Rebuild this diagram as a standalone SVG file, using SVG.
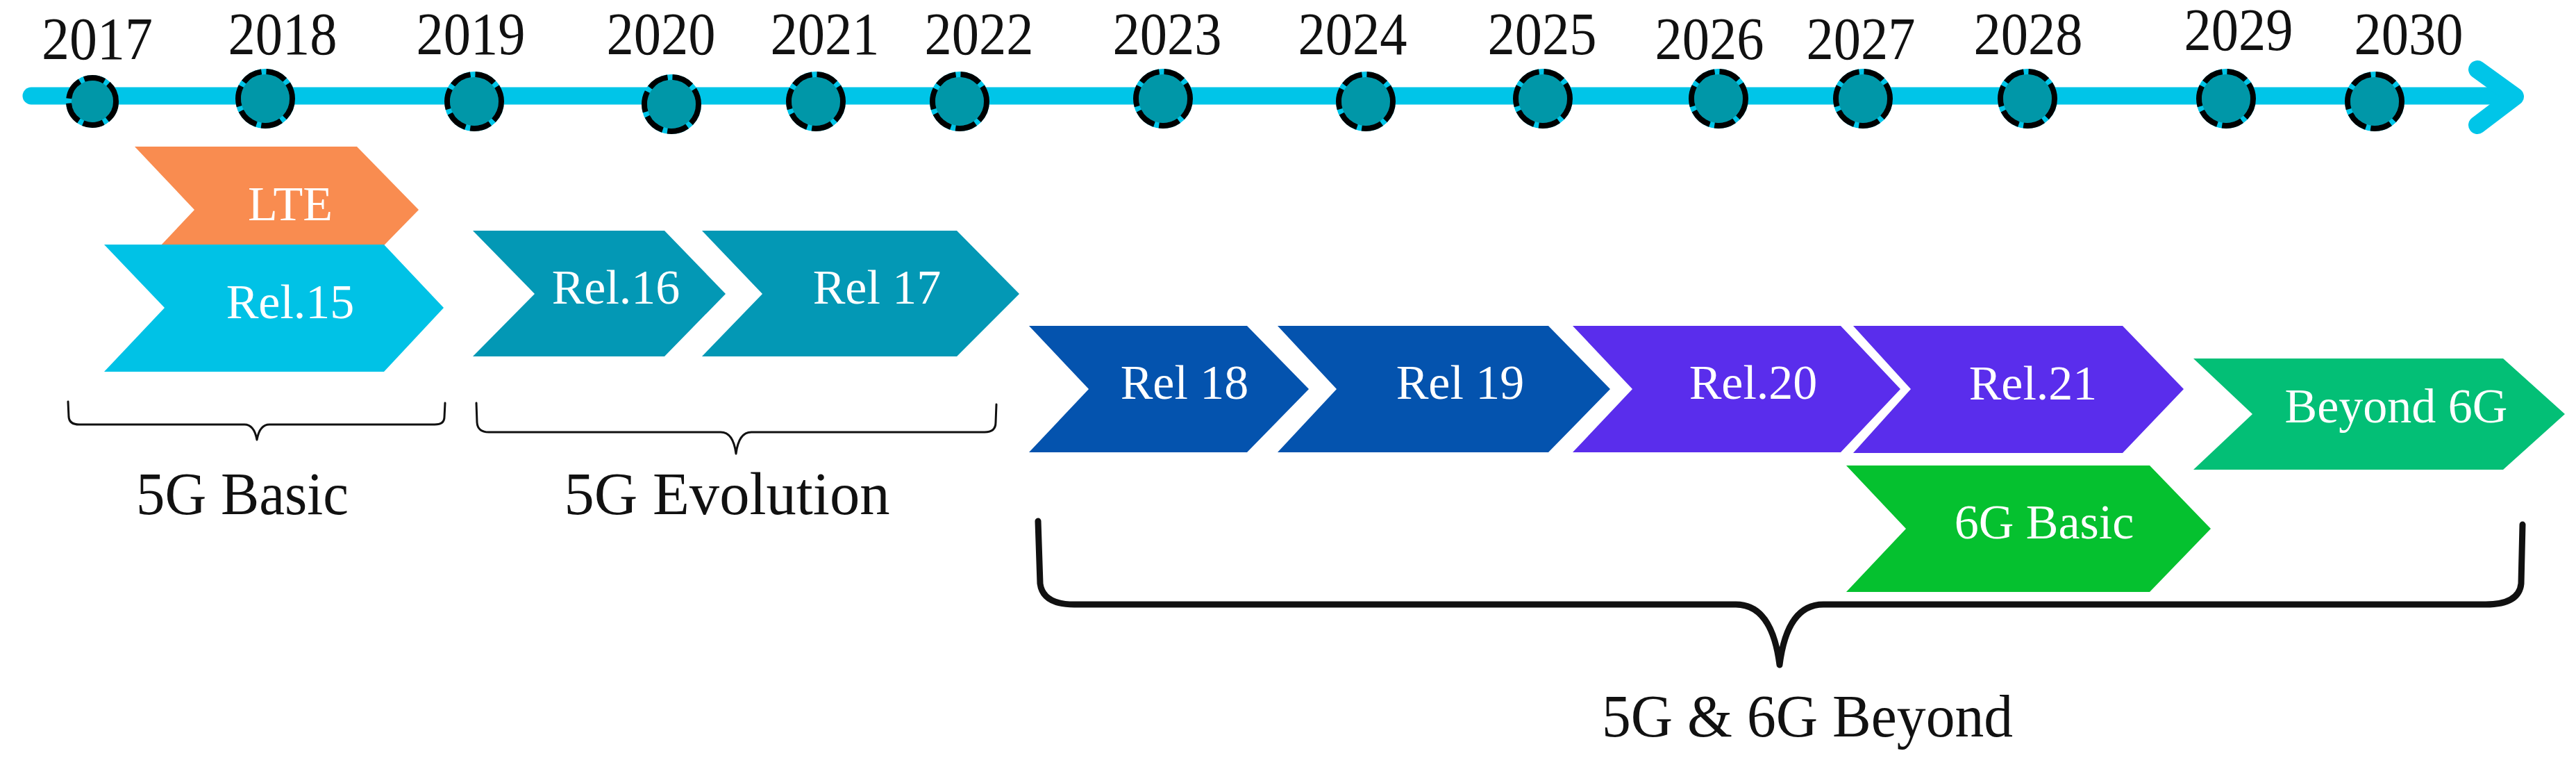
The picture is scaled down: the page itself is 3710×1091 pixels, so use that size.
<svg xmlns="http://www.w3.org/2000/svg" width="3710" height="1091" viewBox="0 0 3710 1091">
<style>
.yr{font-family:"Liberation Serif","Times New Roman",serif;font-size:86px;fill:#111;text-anchor:middle}
.ct{font-family:"Liberation Serif","Times New Roman",serif;font-size:70px;fill:#fff;text-anchor:middle}
.lb{font-family:"Liberation Serif","Times New Roman",serif;font-size:86px;fill:#111;text-anchor:middle}
.dotbase{fill:#0097A8;stroke:#00C5E8;stroke-width:8}
.dot{fill:none;stroke:#000;stroke-width:8;stroke-dasharray:30 7}
.brace{fill:none;stroke:#111;stroke-linecap:round;stroke-linejoin:round}
</style>
<rect width="3710" height="1091" fill="#fff"/>
<g id="connectors">
  <g id="timeline-axis">
    <line x1="45" y1="138" x2="3615" y2="138" stroke="#00C5E8" stroke-width="25" stroke-linecap="round"/>
    <polyline points="3568,100 3622,139 3568,180" fill="none" stroke="#00C5E8" stroke-width="26" stroke-linecap="round" stroke-linejoin="round"/>
  </g>
</g>
<g id="years">
  <g id="y2017"><circle class="dotbase" cx="133" cy="146" r="34"/><circle class="dot" cx="133" cy="146" r="34"/><text class="yr" x="140" y="85" textLength="160" lengthAdjust="spacingAndGlyphs">2017</text></g>
  <g id="y2018"><circle class="dotbase" cx="382" cy="142" r="39"/><circle class="dot" cx="382" cy="142" r="39"/><text class="yr" x="407" y="78" textLength="157" lengthAdjust="spacingAndGlyphs">2018</text></g>
  <g id="y2019"><circle class="dotbase" cx="683" cy="146" r="39"/><circle class="dot" cx="683" cy="146" r="39"/><text class="yr" x="678" y="78" textLength="157" lengthAdjust="spacingAndGlyphs">2019</text></g>
  <g id="y2020"><circle class="dotbase" cx="967" cy="150" r="39"/><circle class="dot" cx="967" cy="150" r="39"/><text class="yr" x="952" y="78" textLength="157" lengthAdjust="spacingAndGlyphs">2020</text></g>
  <g id="y2021"><circle class="dotbase" cx="1175" cy="146" r="39"/><circle class="dot" cx="1175" cy="146" r="39"/><text class="yr" x="1188" y="78" textLength="157" lengthAdjust="spacingAndGlyphs">2021</text></g>
  <g id="y2022"><circle class="dotbase" cx="1382" cy="146" r="39"/><circle class="dot" cx="1382" cy="146" r="39"/><text class="yr" x="1410" y="78" textLength="157" lengthAdjust="spacingAndGlyphs">2022</text></g>
  <g id="y2023"><circle class="dotbase" cx="1675" cy="142" r="39"/><circle class="dot" cx="1675" cy="142" r="39"/><text class="yr" x="1681" y="78" textLength="157" lengthAdjust="spacingAndGlyphs">2023</text></g>
  <g id="y2024"><circle class="dotbase" cx="1967" cy="146" r="39"/><circle class="dot" cx="1967" cy="146" r="39"/><text class="yr" x="1948" y="78" textLength="157" lengthAdjust="spacingAndGlyphs">2024</text></g>
  <g id="y2025"><circle class="dotbase" cx="2222" cy="142" r="39"/><circle class="dot" cx="2222" cy="142" r="39"/><text class="yr" x="2221" y="78" textLength="157" lengthAdjust="spacingAndGlyphs">2025</text></g>
  <g id="y2026"><circle class="dotbase" cx="2475" cy="142" r="39"/><circle class="dot" cx="2475" cy="142" r="39"/><text class="yr" x="2462" y="85" textLength="157" lengthAdjust="spacingAndGlyphs">2026</text></g>
  <g id="y2027"><circle class="dotbase" cx="2683" cy="142" r="39"/><circle class="dot" cx="2683" cy="142" r="39"/><text class="yr" x="2680" y="85" textLength="157" lengthAdjust="spacingAndGlyphs">2027</text></g>
  <g id="y2028"><circle class="dotbase" cx="2920" cy="142" r="39"/><circle class="dot" cx="2920" cy="142" r="39"/><text class="yr" x="2921" y="78" textLength="157" lengthAdjust="spacingAndGlyphs">2028</text></g>
  <g id="y2029"><circle class="dotbase" cx="3206" cy="142" r="39"/><circle class="dot" cx="3206" cy="142" r="39"/><text class="yr" x="3224" y="72" textLength="157" lengthAdjust="spacingAndGlyphs">2029</text></g>
  <g id="y2030"><circle class="dotbase" cx="3420" cy="146" r="39"/><circle class="dot" cx="3420" cy="146" r="39"/><text class="yr" x="3469" y="78" textLength="157" lengthAdjust="spacingAndGlyphs">2030</text></g>
</g>
<g id="lte"><polygon points="194,211 514,211 603,302 514,393 194,393 280,302" fill="#F98C50"/><text class="ct" x="418" y="317">LTE</text></g>
<g id="rel15"><polygon points="150,352 553,352 639,443 553,535 150,535 237,443" fill="#00C2E6"/><text class="ct" x="418" y="458">Rel.15</text></g>
<g id="rel16"><polygon points="681,332 957,332 1045,423 957,513 681,513 770,423" fill="#0398B5"/><text class="ct" x="887" y="437">Rel.16</text></g>
<g id="rel17"><polygon points="1011,332 1378,332 1468,423 1378,513 1011,513 1098,423" fill="#0398B5"/><text class="ct" x="1263" y="437">Rel 17</text></g>
<g id="rel18"><polygon points="1482,469 1796,469 1885,560 1796,651 1482,651 1568,560" fill="#0453AE"/><text class="ct" x="1706" y="574">Rel 18</text></g>
<g id="rel19"><polygon points="1840,469 2230,469 2319,560 2230,651 1840,651 1925,560" fill="#0453AE"/><text class="ct" x="2103" y="574">Rel 19</text></g>
<g id="rel20"><polygon points="2265,469 2651,469 2737,560 2651,651 2265,651 2351,560" fill="#5A2DEC"/><text class="ct" x="2525" y="574">Rel.20</text></g>
<g id="rel21"><polygon points="2669,469 3057,469 3145,560 3057,652 2669,652 2752,560" fill="#5A2DEC"/><text class="ct" x="2928" y="575">Rel.21</text></g>
<g id="beyond6g"><polygon points="3159,516 3605,516 3694,596 3605,676 3159,676 3244,596" fill="#03BF76"/><text class="ct" x="3451" y="608">Beyond 6G</text></g>
<g id="basic6g"><polygon points="2659,670 3096,670 3184,761 3096,852 2659,852 2745,761" fill="#05C12F"/><text class="ct" x="2944" y="775">6G Basic</text></g>
<g id="group-5g-basic">
  <path class="brace" stroke-width="3" d="M98,578 L99,600 Q100,611 114,611 L352,611 Q366,611 370,633 Q374,611 388,611 L626,611 Q640,611 640,600 L641,580"/>
  <text class="lb" x="349" y="740" textLength="306" lengthAdjust="spacingAndGlyphs">5G Basic</text>
</g>
<g id="group-5g-evolution">
  <path class="brace" stroke-width="3" d="M686,580 L687,608 Q688,622 704,622 L1038,622 Q1056,622 1060,653 Q1064,622 1082,622 L1418,622 Q1434,622 1434,608 L1435,582"/>
  <text class="lb" x="1047" y="740" textLength="469" lengthAdjust="spacingAndGlyphs">5G Evolution</text>
</g>
<g id="group-5g-6g-beyond">
  <path class="brace" stroke-width="9" d="M1495,750 L1498,840 Q1502,870 1547,870 L2500,870 Q2552,870 2563,957 Q2574,870 2626,870 L3580,870 Q3628,870 3631,840 L3633,755"/>
  <text class="lb" x="2603" y="1060" textLength="592" lengthAdjust="spacingAndGlyphs">5G &amp; 6G Beyond</text>
</g>
</svg>
